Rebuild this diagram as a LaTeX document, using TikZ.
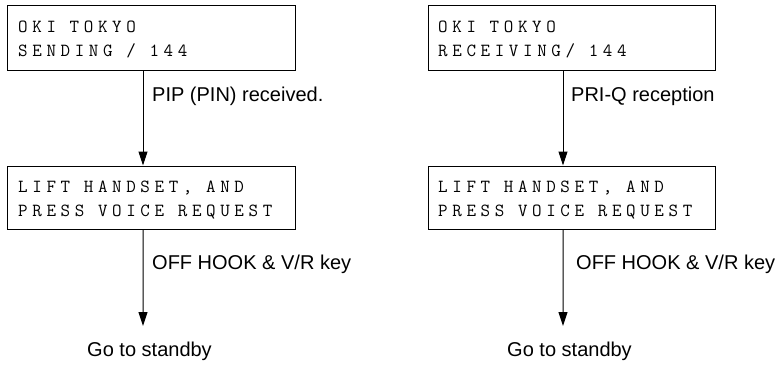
\documentclass[tikz,border=0pt]{standalone}
\usepackage{fontspec}
\setmainfont{Liberation Sans}
\newfontfamily\boxfont[LetterSpace=25]{Latin Modern Mono}
\usetikzlibrary{arrows.meta}
\newcommand\ks{\hspace*{13.7bp}}
\begin{document}
\begin{tikzpicture}[x=1bp,y=-1bp,
  lcdbox/.style={draw,line width=1bp,rectangle,minimum width=287bp,inner sep=0pt},
  lcdtext/.style={anchor=base west,inner sep=0pt,font=\boxfont\fontsize{18.5bp}{24bp}\selectfont},
  flow/.style={line width=1bp,-{Triangle[length=14bp,width=9bp]}},
  lbl/.style={anchor=base west,inner sep=0pt,font=\fontsize{20bp}{24bp}\selectfont},
  endlbl/.style={anchor=base,inner sep=0pt,font=\fontsize{20bp}{24bp}\selectfont}]
\useasboundingbox (0,0) rectangle (783,365);
% left column
\node[lcdbox,minimum height=65bp] (b1) at (151.5,37.5) {};
\node[lcdtext] (b1a) at (18,32) {OKI\ks TOKYO};
\node[lcdtext] (b1b) at (18,56) {SENDING\ks/\ks144};
\node[lcdbox,minimum height=63bp] (b2) at (151.5,197.5) {};
\node[lcdtext] (b2a) at (18,192.5) {LIFT\ks HANDSET,\ks AND};
\node[lcdtext] (b2b) at (18,216) {PRESS\ks VOICE\ks REQUEST};
\coordinate (e1) at (143,326);
\draw[flow] ([xshift=-8.5bp]b1.south) -- ([xshift=-8.5bp]b2.north);
\draw[flow] ([xshift=-8.5bp]b2.south) -- (e1);
\node[lbl] (l1) at (152,101.5) {PIP (PIN) received.};
\node[lbl] (l2) at (152,269) {OFF HOOK \& V/R key};
\node[endlbl] (s1) at (149.5,356) {Go to standby};
% right column
\node[lcdbox,minimum height=65bp] (b3) at (571.5,37.5) {};
\node[lcdtext] (b3a) at (438,32) {OKI\ks TOKYO};
\node[lcdtext] (b3b) at (438,56) {RECEIVING/\ks144};
\node[lcdbox,minimum height=63bp] (b4) at (571.5,197.5) {};
\node[lcdtext] (b4a) at (438,192.5) {LIFT\ks HANDSET,\ks AND};
\node[lcdtext] (b4b) at (438,216) {PRESS\ks VOICE\ks REQUEST};
\coordinate (e2) at (563,326);
\draw[flow] ([xshift=-8.5bp]b3.south) -- ([xshift=-8.5bp]b4.north);
\draw[flow] ([xshift=-8.5bp]b4.south) -- (e2);
\node[lbl] (l3) at (571,101.5) {PRI-Q reception};
\node[lbl] (l4) at (576,269) {OFF HOOK \& V/R key};
\node[endlbl] (s2) at (569.5,356) {Go to standby};
\end{tikzpicture}
\end{document}
